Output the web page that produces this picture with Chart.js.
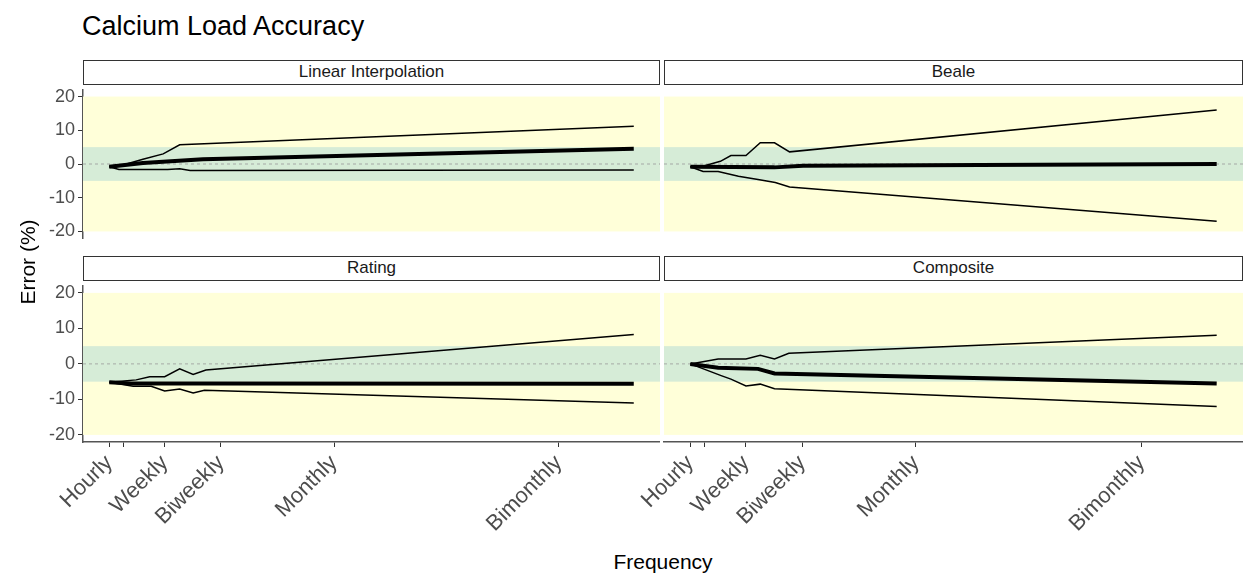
<!DOCTYPE html>
<html>
<head>
<meta charset="utf-8">
<script src="https://cdn.jsdelivr.net/npm/chart.js@4.4.0/dist/chart.umd.min.js"></script>
<style>
body { margin: 0; background: #fff; font-family: "Liberation Sans", Arial, sans-serif; }
#wrap { position: relative; width: 1243px; height: 576px; }
.box { position: absolute; }
.strip { position: absolute; border: 1px solid #333; background: #fff; font-size: 17px; color: #1a1a1a; text-align: center; line-height: 22px; box-sizing: border-box; height: 25px; }
</style>
</head>
<body>
<div id="wrap">
  <div class="box" style="left:82px;top:11px;font-size:27px;color:#000">Calcium Load Accuracy</div>
  <div class="box" style="left:0;top:76px;width:660px;height:176px"><canvas id="c1"></canvas></div>
  <div class="box" style="left:581px;top:76px;width:662px;height:176px"><canvas id="c2"></canvas></div>
  <div class="box" style="left:0;top:272px;width:660px;height:270px"><canvas id="c3"></canvas></div>
  <div class="box" style="left:581px;top:272px;width:662px;height:270px"><canvas id="c4"></canvas></div>
  <div class="strip" style="left:83px;top:60px;width:577px">Linear Interpolation</div>
  <div class="strip" style="left:664px;top:60px;width:579px">Beale</div>
  <div class="strip" style="left:83px;top:256px;width:577px">Rating</div>
  <div class="strip" style="left:664px;top:256px;width:579px">Composite</div>
  <div class="box" style="left:-22px;top:250px;width:100px;text-align:center;font-size:21px;transform:rotate(-90deg)">Error (%)</div>
  <div class="box" style="left:0;top:550px;width:1243px;padding-left:83px;box-sizing:border-box;text-align:center;font-size:21px">Frequency</div>
</div>
<script>
var tickVals = [0, 1.9, 7.4, 14.9, 30, 60];
var tickLabels = ['Hourly', '', 'Weekly', 'Biweekly', 'Monthly', 'Bimonthly'];
var yTicks = [-20, -10, 0, 10, 20];

// Linear Interpolation
var liUpX = [0, 2.3, 4.5, 7.2, 9.4, 70];
var liUpY = [-0.8, 0, 1.4, 3, 5.7, 11.2];
var liMeanX = [0, 4.5, 12.5, 70];
var liMeanY = [-0.8, 0.3, 1.4, 4.5];
var liLowX = [0, 1.3, 7.8, 9.4, 10.8, 70];
var liLowY = [-0.8, -1.6, -1.6, -1.4, -1.9, -1.8];

// Beale
var beUpX = [0, 1.9, 4, 5.4, 7.4, 9.3, 11.2, 13.2, 70];
var beUpY = [-0.8, -0.5, 0.8, 2.5, 2.5, 6.3, 6.3, 3.6, 16];
var beMeanX = [0, 11.2, 15, 70];
var beMeanY = [-0.8, -1, -0.5, 0];
var beLowX = [0, 1.7, 3.7, 6.4, 9, 11.3, 13.2, 70];
var beLowY = [-0.8, -2.2, -2.2, -3.6, -4.6, -5.5, -6.8, -17];

// Rating
var raUpX = [0, 3.6, 5.4, 7.4, 9.4, 11.2, 12.9, 70];
var raUpY = [-5.2, -4.5, -3.6, -3.6, -1.4, -3, -1.7, 8.3];
var raMeanX = [0, 3, 12, 70];
var raMeanY = [-5.2, -5.5, -5.5, -5.6];
var raLowX = [0, 3.2, 5.6, 7.4, 9.4, 11.2, 12.7, 70];
var raLowY = [-5.2, -6.3, -6.3, -7.6, -7.1, -8.2, -7.4, -11];

// Composite
var coUpX = [0, 3.7, 7.4, 9.3, 11.2, 13.1, 70];
var coUpY = [0, 1.4, 1.4, 2.4, 1.4, 3, 8.1];
var coMeanX = [0, 3.7, 9, 11.2, 70];
var coMeanY = [0, -1.1, -1.4, -2.7, -5.5];
var coLowX = [0, 4.1, 5.4, 7.4, 9.3, 11.2, 70];
var coLowY = [0, -3.3, -4.3, -6.2, -5.7, -7, -12];

function pts(xs, ys) {
  return xs.map(function (x, i) { return { x: x, y: ys[i] }; });
}

var bands = {
  id: 'bands',
  beforeDatasetsDraw: function (chart) {
    var c = chart.ctx, a = chart.chartArea, y = chart.scales.y;
    c.save();
    c.fillStyle = '#ffffd9';
    c.fillRect(a.left, y.getPixelForValue(20), a.width, y.getPixelForValue(-20) - y.getPixelForValue(20));
    c.fillStyle = '#d6ecd7';
    c.fillRect(a.left, y.getPixelForValue(5), a.width, y.getPixelForValue(-5) - y.getPixelForValue(5));
    c.strokeStyle = '#999';
    c.lineWidth = 0.8;
    c.setLineDash([3, 3]);
    c.beginPath();
    c.moveTo(a.left, y.getPixelForValue(0));
    c.lineTo(a.right, y.getPixelForValue(0));
    c.stroke();
    c.restore();
  }
};

function makeChart(id, up, mean, low, showY, showX) {
  new Chart(document.getElementById(id), {
    type: 'line',
    data: {
      datasets: [
        { data: up, borderColor: '#000', borderWidth: 1.5 },
        { data: mean, borderColor: '#000', borderWidth: 4 },
        { data: low, borderColor: '#000', borderWidth: 1.5 }
      ]
    },
    options: {
      responsive: true,
      maintainAspectRatio: false,
      animation: false,
      layout: { padding: { top: 10 } },
      elements: { point: { radius: 0 }, line: { tension: 0 } },
      plugins: { legend: { display: false }, tooltip: { enabled: false } },
      scales: {
        x: {
          type: 'linear', min: -3.5, max: 73.5,
          display: showX,
          afterBuildTicks: function (s) { s.ticks = tickVals.map(function (v) { return { value: v }; }); },
          afterFit: function (s) { if (showX) s.height = 100; },
          ticks: {
            autoSkip: false, minRotation: 45, maxRotation: 45, color: '#4d4d4d',
            font: { size: 22, family: 'Liberation Sans' },
            callback: function (v) { return tickLabels[tickVals.indexOf(v)]; }
          },
          grid: { display: true, drawOnChartArea: false, tickLength: 5, color: '#333' },
          border: { display: true, color: '#555', width: 1.5 }
        },
        y: {
          min: -22, max: 22,
          afterBuildTicks: function (s) { s.ticks = yTicks.map(function (v) { return { value: v }; }); },
          afterFit: function (s) { s.width = 83; },
          ticks: { color: showY ? '#4d4d4d' : 'rgba(0,0,0,0)', font: { size: 18, family: 'Liberation Sans' } },
          grid: { display: showY, drawOnChartArea: false, tickLength: 5, color: '#333' },
          border: { display: showY, color: '#555', width: 1.5 }
        }
      }
    },
    plugins: [bands]
  });
}

makeChart('c1', pts(liUpX, liUpY), pts(liMeanX, liMeanY), pts(liLowX, liLowY), true, false);
makeChart('c2', pts(beUpX, beUpY), pts(beMeanX, beMeanY), pts(beLowX, beLowY), false, false);
makeChart('c3', pts(raUpX, raUpY), pts(raMeanX, raMeanY), pts(raLowX, raLowY), true, true);
makeChart('c4', pts(coUpX, coUpY), pts(coMeanX, coMeanY), pts(coLowX, coLowY), false, true);
</script>
</body>
</html>
